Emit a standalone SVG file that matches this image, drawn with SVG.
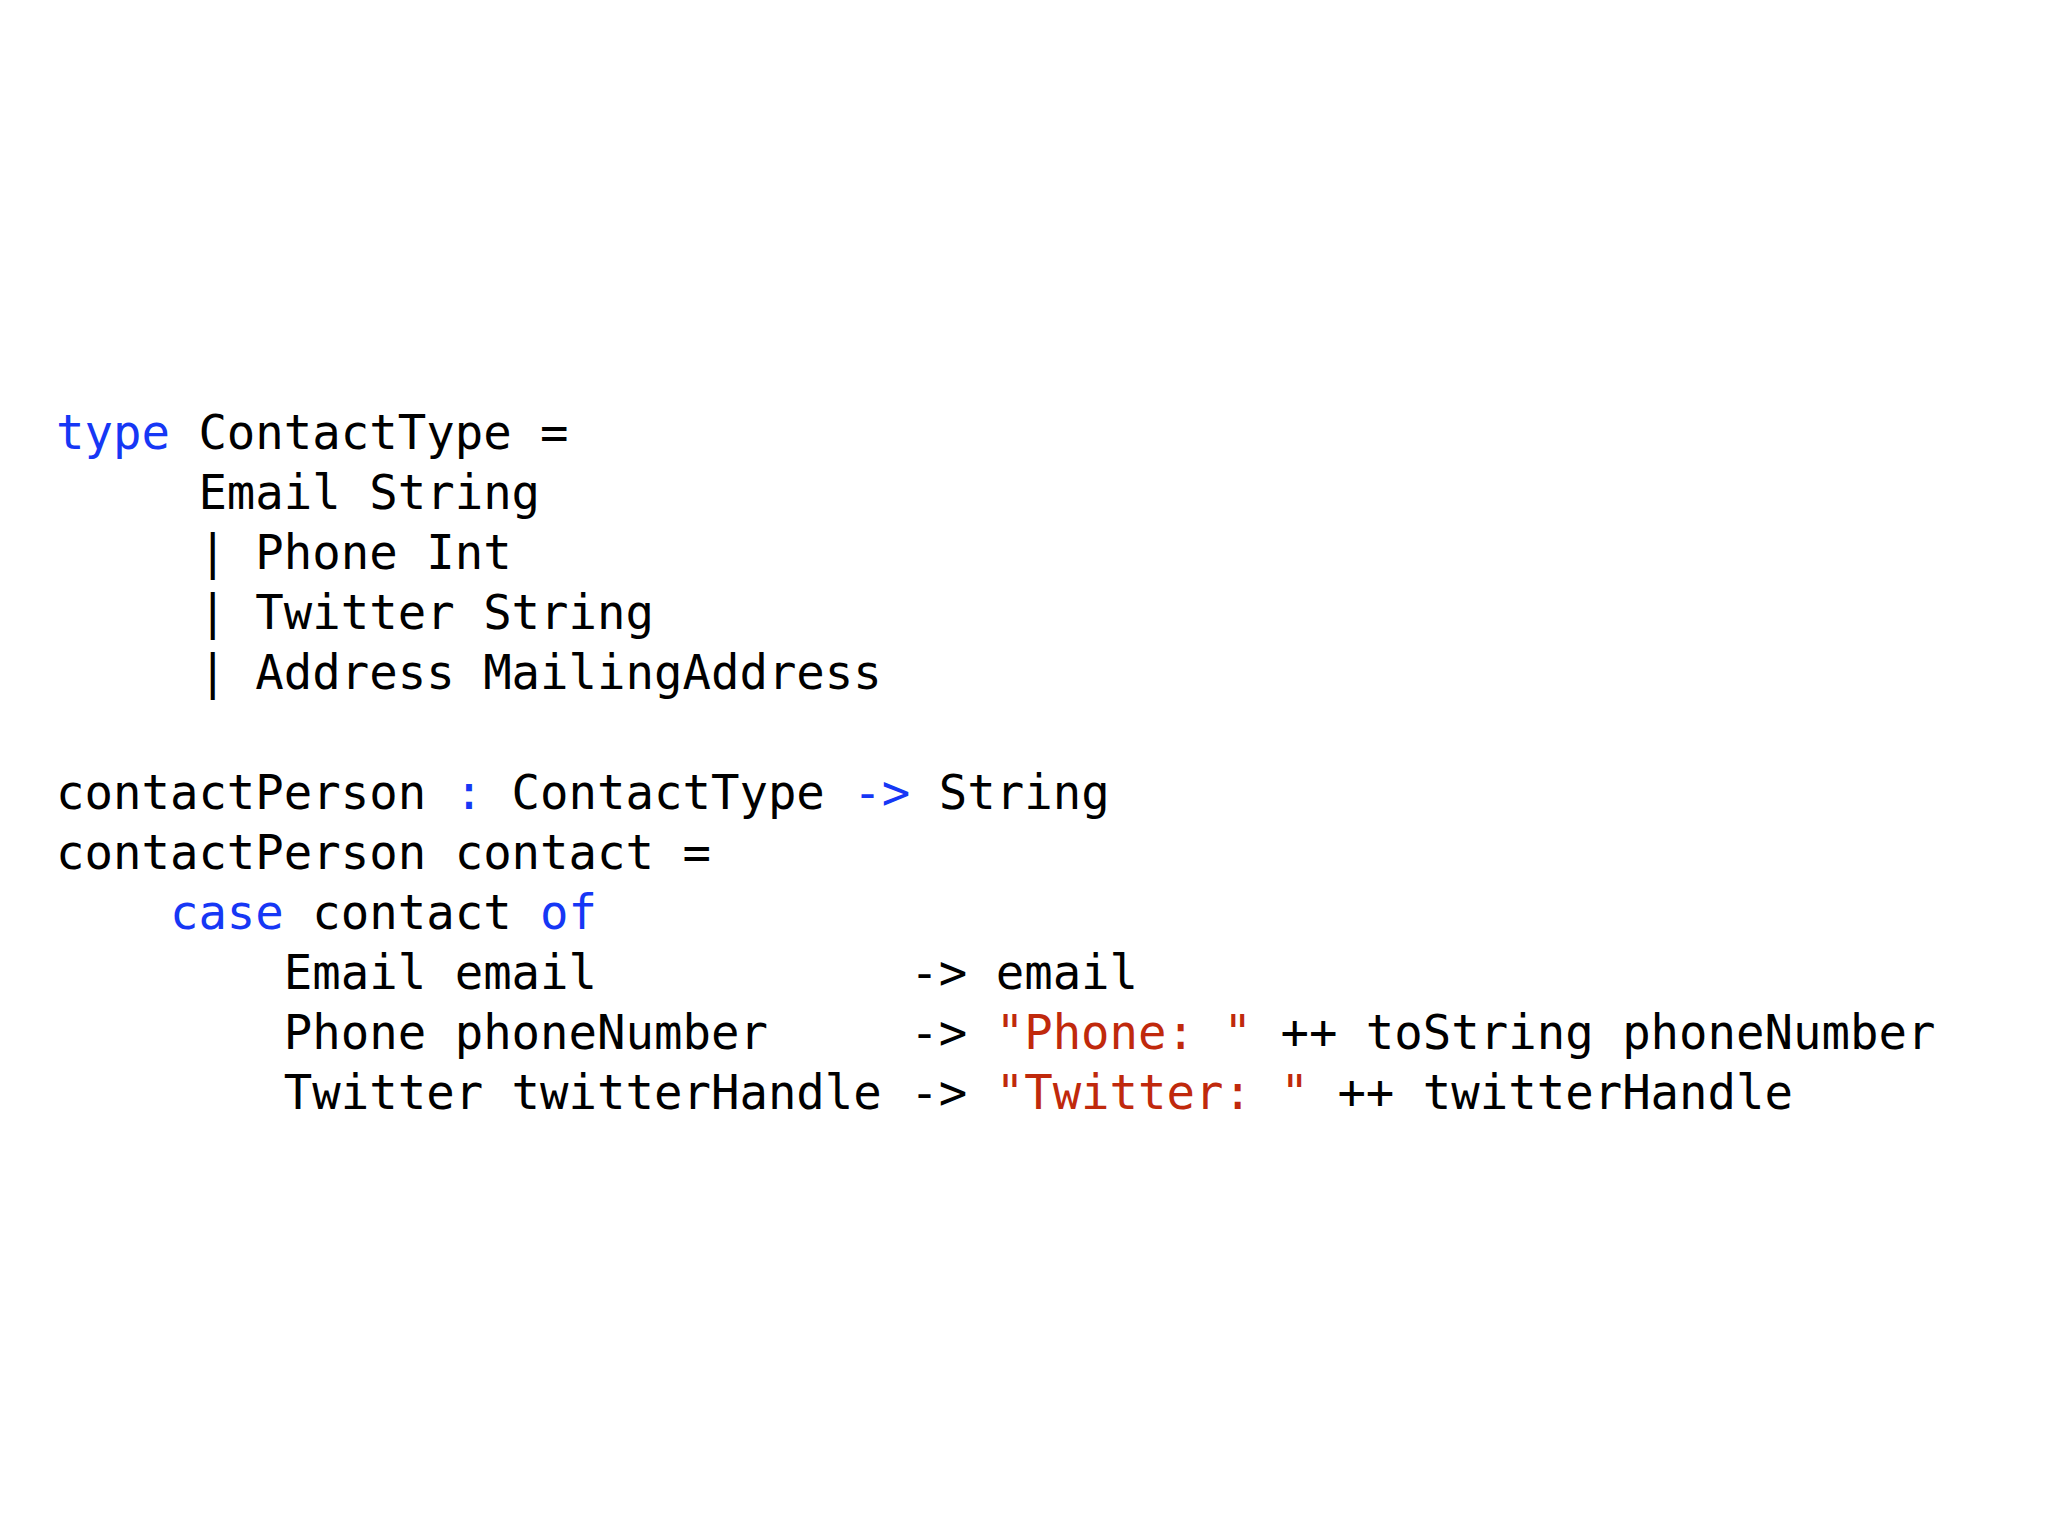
<svg xmlns="http://www.w3.org/2000/svg" width="2048" height="1536" viewBox="0 0 2048 1536">
<style>
text{font-family:"DejaVu Sans Mono","Liberation Mono",monospace;font-size:47.3px;fill:#000;white-space:pre}
.k{fill:#1637f5}
.s{fill:#c0290c}
</style>
<rect width="2048" height="1536" fill="#fff"/>
<g id="code" xml:space="preserve">
<text x="56" y="449"><tspan class="k">type</tspan> ContactType =</text>
<text x="56" y="509">     Email String</text>
<text x="56" y="569">     | Phone Int</text>
<text x="56" y="629">     | Twitter String</text>
<text x="56" y="689">     | Address MailingAddress</text>
<text x="56" y="809">contactPerson <tspan class="k">:</tspan> ContactType <tspan class="k">-&gt;</tspan> String</text>
<text x="56" y="869">contactPerson contact =</text>
<text x="56" y="929">    <tspan class="k">case</tspan> contact <tspan class="k">of</tspan></text>
<text x="56" y="989">        Email email           -&gt; email</text>
<text x="56" y="1049">        Phone phoneNumber     -&gt; <tspan class="s">"Phone: "</tspan> ++ toString phoneNumber</text>
<text x="56" y="1109">        Twitter twitterHandle -&gt; <tspan class="s">"Twitter: "</tspan> ++ twitterHandle</text>
</g>
</svg>
